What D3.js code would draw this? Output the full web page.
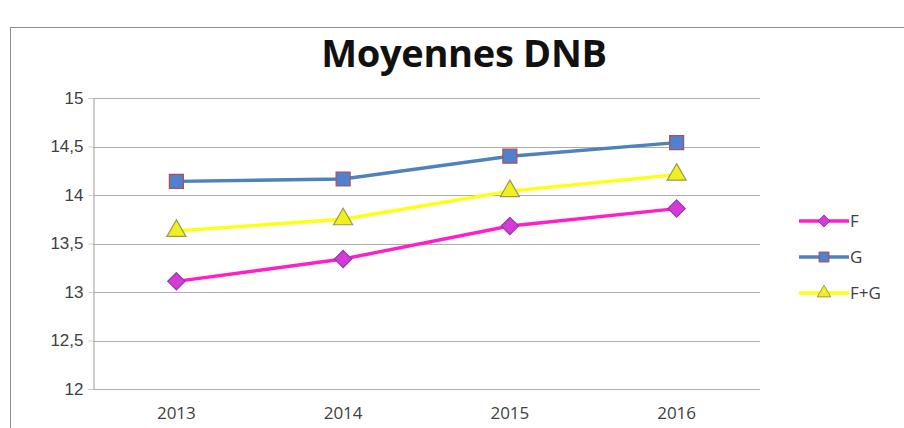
<!DOCTYPE html>
<html>
<head>
<meta charset="utf-8">
<script src="https://cdn.jsdelivr.net/npm/d3@7"></script>
<style>
  body { margin: 0; background: #fff; }
  svg { display: block; font-family: "Open Sans", "Liberation Sans", sans-serif; }
</style>
</head>
<body>
<div id="chart"></div>
<script>
var years = ["2013", "2014", "2015", "2016"];
var valuesF = [13.11, 13.34, 13.68, 13.86];
var valuesG = [14.14, 14.165, 14.40, 14.54];
var valuesFG = [13.63, 13.75, 14.04, 14.21];
var yTicks = [12, 12.5, 13, 13.5, 14, 14.5, 15];

var series = [
    { name: "F", values: valuesF, line: "#ff1ec8", fill: "#d63ad6", stroke: "#8a3ab8", symbol: d3.symbolDiamond2, size: 190 },
    { name: "G", values: valuesG, line: "#4f81bd", fill: "#4f81d0", stroke: "#b0504d", symbol: d3.symbolSquare2, size: 250 },
    { name: "F+G", values: valuesFG, line: "#ffff10", fill: "#f0f020", stroke: "#9a9a50", symbol: d3.symbolTriangle2, size: 260 }
];

var width = 904, height = 428;
var plot = { left: 93, right: 760, top: 98, bottom: 389 };

var svg = d3.select("#chart")
    .append("svg")
    .attr("width", width)
    .attr("height", height);

// outer frame
svg.append("rect")
    .attr("x", 10.5)
    .attr("y", 27.5)
    .attr("width", width)
    .attr("height", height)
    .attr("fill", "#fff")
    .attr("stroke", "#8c8c8c")
    .attr("stroke-width", 1);

var x = d3.scaleBand()
    .domain(years)
    .range([plot.left, plot.right]);

var y = d3.scaleLinear()
    .domain([12, 15])
    .range([plot.bottom, plot.top]);

// gridlines
svg.append("g")
    .selectAll("line")
    .data(yTicks)
    .enter()
    .append("line")
    .attr("x1", plot.left)
    .attr("x2", plot.right)
    .attr("y1", function(d) { return Math.round(y(d)) + 0.5; })
    .attr("y2", function(d) { return Math.round(y(d)) + 0.5; })
    .attr("stroke", "#acacac")
    .attr("stroke-width", 1.2);

// y axis
var yAxis = svg.append("g")
    .attr("transform", "translate(" + (plot.left + 0.5) + ",0)")
    .call(d3.axisLeft(y)
        .tickValues(yTicks)
        .tickSize(5)
        .tickPadding(5)
        .tickFormat(function(d) { return String(d).replace(".", ","); }));
yAxis.select(".domain").attr("stroke", "#acacac").attr("stroke-width", 1.2);
yAxis.selectAll(".tick line").attr("stroke", "#d0d0d0");
yAxis.selectAll(".tick text")
    .attr("fill", "#404040")
    .style("font-size", "17px");

// x axis labels
svg.append("g")
    .selectAll("text")
    .data(years)
    .enter()
    .append("text")
    .attr("x", function(d) { return x(d) + x.bandwidth() / 2; })
    .attr("y", 419)
    .attr("text-anchor", "middle")
    .attr("fill", "#404040")
    .style("font-size", "17px")
    .text(function(d) { return d; });

// title
svg.append("text")
    .attr("x", 464)
    .attr("y", 67)
    .attr("text-anchor", "middle")
    .attr("fill", "#111")
    .style("font-size", "38px")
    .style("font-weight", "bold")
    .style("letter-spacing", "-0.3px")
    .text("Moyennes DNB");

var line = d3.line()
    .x(function(d, i) { return x(years[i]) + x.bandwidth() / 2; })
    .y(function(d) { return y(d); });

series.forEach(function(s) {
    svg.append("path")
        .datum(s.values)
        .attr("d", line)
        .attr("fill", "none")
        .attr("stroke", s.line)
        .attr("stroke-width", 3.4);

    svg.append("g")
        .selectAll("path")
        .data(s.values)
        .enter()
        .append("path")
        .attr("transform", function(d, i) {
            return "translate(" + (x(years[i]) + x.bandwidth() / 2) + "," + y(d) + ")";
        })
        .attr("d", d3.symbol().type(s.symbol).size(s.size))
        .attr("fill", s.fill)
        .attr("stroke", s.stroke)
        .attr("stroke-width", 1.2);
});

// legend
var legend = svg.append("g")
    .selectAll("g")
    .data(series)
    .enter()
    .append("g")
    .attr("transform", function(d, i) { return "translate(799," + (221 + i * 36) + ")"; });

legend.append("line")
    .attr("x1", 0)
    .attr("x2", 50)
    .attr("stroke", function(d) { return d.line; })
    .attr("stroke-width", 3.4);

legend.append("path")
    .attr("transform", "translate(25,0)")
    .attr("d", function(d) { return d3.symbol().type(d.symbol).size(d.size * 0.5)(); })
    .attr("fill", function(d) { return d.fill; })
    .attr("stroke", function(d) { return d.stroke; })
    .attr("stroke-width", 1);

legend.append("text")
    .attr("x", 51)
    .attr("y", 6)
    .attr("fill", "#404040")
    .style("font-size", "17px")
    .text(function(d) { return d.name; });
</script>
</body>
</html>
